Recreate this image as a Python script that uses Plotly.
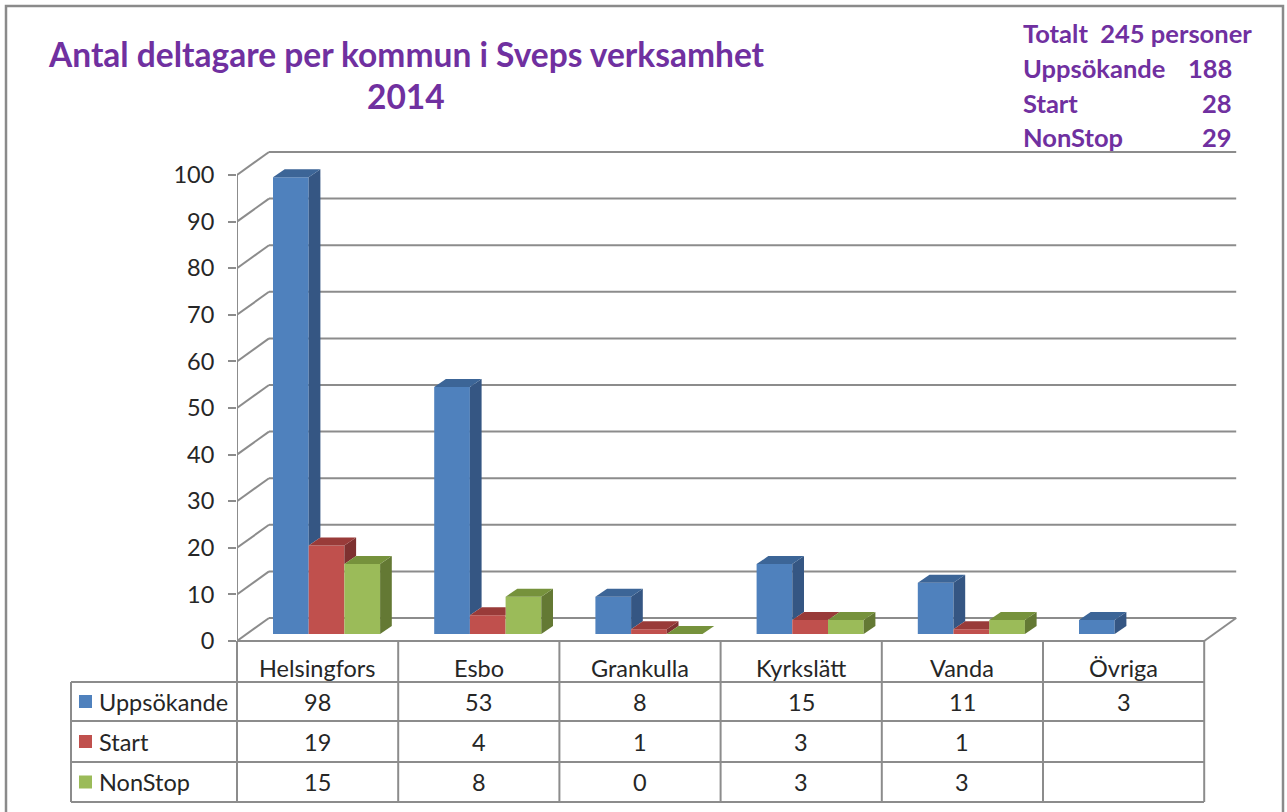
import plotly.graph_objects as go

# ---------------- data ----------------
categories = ["Helsingfors", "Esbo", "Grankulla", "Kyrkslätt", "Vanda", "Övriga"]
series_names = ["Uppsökande", "Start", "NonStop"]
uppsokande = [98, 53, 8, 15, 11, 3]
start = [19, 4, 1, 3, 1, None]
nonstop = [15, 8, 0, 3, 3, None]
y_ticks = [0, 10, 20, 30, 40, 50, 60, 70, 80, 90, 100]
title_lines = ["Antal deltagare per kommun i Sveps verksamhet", "2014"]
summary_labels = ["Uppsökande", "Start", "NonStop"]
summary_values = [188, 28, 29]
total_text = "Totalt  245 personer"

# ---------------- styling / geometry ----------------
FRONT = ["#4F81BD", "#C0504D", "#9BBB59"]
SIDE = ["#355683", "#7E3130", "#647934"]
TOP = ["#3C6597", "#993B39", "#76923C"]
GRID = "#8C8C8C"
TXT = "#262626"
PURPLE = "#7030A0"
FONT = "Lato"
FS = 23.5

WIDTH, HEIGHT = 1287, 812
ML, MR, MT, MB = 237, 42, 140, 7
PW = WIDTH - ML - MR
PH = HEIGHT - MT - MB
CAT_PX = 161.2          # pixels per category
Y0_PX = 641             # pixel of value 0
UNIT_PX = 4.66          # pixels per unit
X_RANGE = [-0.5, -0.5 + PW / CAT_PX]
Y_RANGE = [(Y0_PX - (HEIGHT - MB)) / UNIT_PX, (Y0_PX - MT) / UNIT_PX]

DX = 32 / CAT_PX        # depth of walls (x units)
DY = 23 / UNIT_PX       # depth of walls (y units)
BDX = 11.7 / CAT_PX     # bar depth
BDY = 8 / UNIT_PX
BASE = 7 / UNIT_PX      # bars stand inside the floor
BW = 35.7 / CAT_PX      # bar width
OFF0 = -44.6 / CAT_PX   # offset of first bar from category center


def px_x(p):
    return (p - ML) / PW


def px_y(p):
    return (HEIGHT - MB - p) / PH


def dy(p):
    return (Y0_PX - p) / UNIT_PX


fig = go.Figure()
series = [uppsokande, start, nonstop]
n = len(categories)
idx = list(range(n))

# front faces as real bars
for k, (name, vals) in enumerate(zip(series_names, series)):
    fig.add_trace(go.Bar(
        x=idx, y=vals, base=BASE, width=BW, offset=OFF0 + k * BW,
        marker=dict(color=FRONT[k], line=dict(width=0)),
        name=name, showlegend=False, hoverinfo="skip"))

# side and top faces (pseudo 3D) computed from the same values
for k, vals in enumerate(series):
    for i, v in enumerate(vals):
        if v is None:
            continue
        xl = i + OFF0 + k * BW
        xr = xl + BW
        top = BASE + v
        nxt = series[k + 1][i] if k + 1 < len(series) else None
        nxt_top = BASE + nxt if nxt is not None else None
        sb = BASE if nxt_top is None else max(BASE, nxt_top)
        if sb < top:
            fig.add_trace(go.Scatter(
                x=[xr, xr, xr + BDX, xr + BDX, xr],
                y=[sb, top, top + BDY, sb + BDY, sb],
                mode="lines", fill="toself", fillcolor=SIDE[k],
                line=dict(width=0, color=SIDE[k]), showlegend=False, hoverinfo="skip"))
        if nxt_top is not None and nxt_top > top:
            tx = [xl, xr, xr, xl + BDX, xl]
        else:
            tx = [xl, xr, xr + BDX, xl + BDX, xl]
        ty = [top, top, top + BDY, top + BDY, top]
        fig.add_trace(go.Scatter(
            x=tx, y=ty, mode="lines", fill="toself", fillcolor=TOP[k],
            line=dict(width=0, color=TOP[k]), showlegend=False, hoverinfo="skip"))

shapes = []
line = dict(color=GRID, width=2)
xl_front, xr_front = -0.5, n - 0.5
for t in y_ticks:
    shapes.append(dict(type="line", xref="x", yref="y", x0=xl_front + DX, x1=xr_front + DX,
                       y0=t + DY, y1=t + DY, line=line, layer="below"))
    shapes.append(dict(type="line", xref="x", yref="y", x0=xl_front, x1=xl_front + DX,
                       y0=t, y1=t + DY, line=line, layer="below"))
shapes.append(dict(type="line", xref="x", yref="y", x0=xl_front, x1=xl_front,
                   y0=0, y1=y_ticks[-1], line=line, layer="below"))
shapes.append(dict(type="line", xref="x", yref="y", x0=xr_front, x1=xr_front + DX,
                   y0=0, y1=DY, line=line, layer="below"))

# data table
TL = 71
TR = px_x(1204)
row_lines = [682, 721, 762, 802]
for r in row_lines:
    shapes.append(dict(type="line", xref="paper", yref="paper", x0=px_x(TL), x1=TR,
                       y0=px_y(r), y1=px_y(r), line=line))
shapes.append(dict(type="line", xref="paper", yref="paper", x0=0, x1=TR,
                   y0=px_y(Y0_PX), y1=px_y(Y0_PX), line=line))
shapes.append(dict(type="line", xref="paper", yref="paper", x0=px_x(TL), x1=px_x(TL),
                   y0=px_y(682), y1=px_y(802), line=line))
for i in range(n + 1):
    xp = px_x(ML + i * CAT_PX)
    shapes.append(dict(type="line", xref="paper", yref="paper", x0=xp, x1=xp,
                       y0=px_y(Y0_PX), y1=px_y(802), line=line))

annotations = []
row_centers = [701.5, 741.5, 782]
for i, c in enumerate(categories):
    annotations.append(dict(x=i, y=dy(668), xref="x", yref="y", text=c, showarrow=False,
                            xanchor="center", yanchor="middle",
                            font=dict(family=FONT, size=FS, color=TXT)))
for k, (name, vals) in enumerate(zip(series_names, series)):
    yc = row_centers[k]
    shapes.append(dict(type="rect", xref="paper", yref="paper",
                       x0=px_x(79), x1=px_x(92), y0=px_y(yc + 6.5), y1=px_y(yc - 6.5),
                       fillcolor=FRONT[k], line=dict(width=0)))
    annotations.append(dict(x=px_x(97), y=px_y(yc), xref="paper", yref="paper", text=name,
                            showarrow=False, xanchor="left", yanchor="middle",
                            font=dict(family=FONT, size=FS, color=TXT)))
    for i, v in enumerate(vals):
        if v is None:
            continue
        annotations.append(dict(x=i, y=dy(yc), xref="x", yref="y", text=str(v),
                                showarrow=False, xanchor="center", yanchor="middle",
                                font=dict(family=FONT, size=FS, color=TXT)))

# titles
for j, (t, yp) in enumerate(zip(title_lines, [54, 96])):
    annotations.append(dict(x=px_x(406), y=px_y(yp), xref="paper", yref="paper", text=t,
                            showarrow=False, xanchor="center", yanchor="middle",
                            font=dict(family=FONT, size=33.5, color=PURPLE, weight="bold")))
# summary box
SFS = 25.5
annotations.append(dict(x=px_x(1021), y=px_y(33), xref="paper", yref="paper",
                        text=total_text.replace("  ", "\u00a0 "),
                        showarrow=False, xanchor="left", yanchor="middle",
                        font=dict(family=FONT, size=SFS, color=PURPLE, weight="bold")))
for j, (lab, val) in enumerate(zip(summary_labels, summary_values)):
    yp = 68 + j * 34.7
    annotations.append(dict(x=px_x(1021), y=px_y(yp), xref="paper", yref="paper", text=lab,
                            showarrow=False, xanchor="left", yanchor="middle",
                            font=dict(family=FONT, size=SFS, color=PURPLE, weight="bold")))
    annotations.append(dict(x=px_x(1234), y=px_y(yp), xref="paper", yref="paper", text=str(val),
                            showarrow=False, xanchor="right", yanchor="middle",
                            font=dict(family=FONT, size=SFS, color=PURPLE, weight="bold")))

# outer frame
shapes.append(dict(type="rect", xref="paper", yref="paper", x0=px_x(6), x1=px_x(1283),
                   y0=px_y(820), y1=px_y(6), line=dict(color="#8A8A8A", width=2.5)))

fig.update_layout(
    width=WIDTH, height=HEIGHT,
    margin=dict(l=ML, r=MR, t=MT, b=MB),
    paper_bgcolor="white", plot_bgcolor="white",
    barmode="overlay", showlegend=False,
    xaxis=dict(range=X_RANGE, visible=False, fixedrange=True),
    yaxis=dict(range=Y_RANGE, tickvals=y_ticks, showgrid=False, zeroline=False, showline=False,
               ticks="outside", ticklen=8, tickwidth=2, tickcolor=GRID,
               tickfont=dict(family=FONT, size=FS, color=TXT), ticklabelstandoff=9,
               fixedrange=True),
    shapes=shapes, annotations=annotations,
)

fig.write_html("out.html", config={"displayModeBar": False},
               post_script="document.body.style.margin='0';document.body.style.overflow='hidden';")
